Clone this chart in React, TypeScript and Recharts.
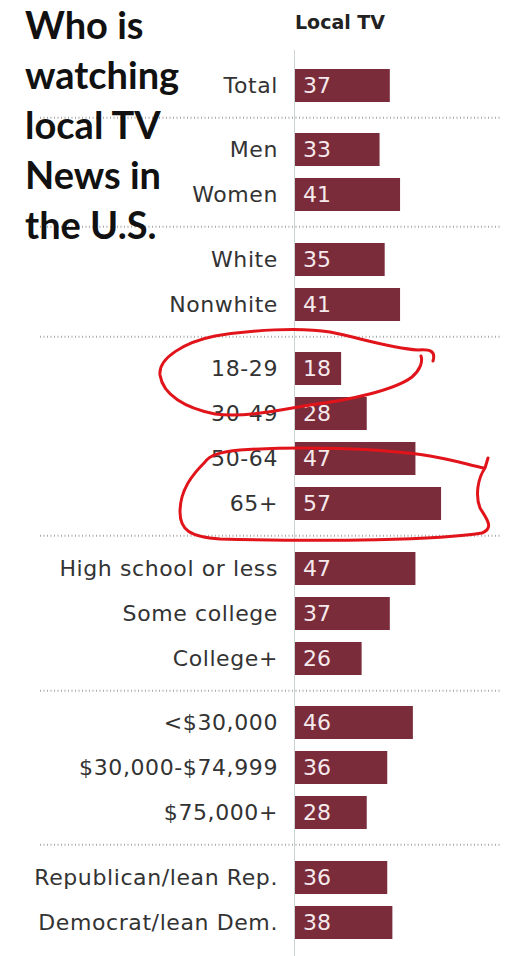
import { BarChart, Bar, XAxis, YAxis, LabelList } from 'recharts';

const categories = [
  'Total',
  'Men', 'Women',
  'White', 'Nonwhite',
  '18-29', '30-49', '50-64', '65+',
  'High school or less', 'Some college', 'College+',
  '<$30,000', '$30,000-$74,999', '$75,000+',
  'Republican/lean Rep.', 'Democrat/lean Dem.',
];
const localTV = [37, 33, 41, 35, 41, 18, 28, 47, 57, 47, 37, 26, 46, 36, 28, 36, 38];
const groupSizes = [1, 2, 2, 4, 3, 3, 2];

const titleLines = ['Who is', 'watching', 'local TV', 'News in', 'the U.S.'];
const seriesName = 'Local TV';

const ROW = 45;
const GAP = 19.5;
const BAR = '#7a2c3b';
const FONT = '"DejaVu Sans", sans-serif';

const rows = categories.map((c, i) => ({ label: c, value: localTV[i] }));
const groups: { label: string; value: number }[][] = [];
let start = 0;
groupSizes.forEach((n) => {
  groups.push(rows.slice(start, start + n));
  start += n;
});

function Group({ data }: { data: { label: string; value: number }[] }) {
  return (
    <BarChart
      width={513}
      height={data.length * ROW}
      data={data}
      layout="vertical"
      margin={{ top: 0, right: 13, bottom: 0, left: 0 }}
    >
      <XAxis type="number" domain={[0, 80]} hide />
      <YAxis
        type="category"
        dataKey="label"
        width={295}
        axisLine={false}
        tickLine={false}
        tickSize={0}
        tickMargin={17}
        interval={0}
        tick={{ fill: '#333', fontSize: 22, fontFamily: FONT, letterSpacing: 0.6 }}
      />
      <Bar dataKey="value" fill={BAR} barSize={33} isAnimationActive={false}>
        <LabelList
          dataKey="value"
          position="insideLeft"
          offset={8}
          fill="#f6e9eb"
          fontSize={22}
          fontFamily={FONT}
        />
      </Bar>
    </BarChart>
  );
}

function Separator() {
  return (
    <svg width={513} height={GAP} style={{ display: 'block' }}>
      <line x1={40} x2={500} y1={GAP / 2} y2={GAP / 2} stroke="#a8a8a8" strokeWidth={2} strokeDasharray="1 2.5" />
    </svg>
  );
}

export default function App() {
  return (
    <div style={{ position: 'absolute', left: 0, top: 0, width: 513, height: 956, background: '#fff', overflow: 'hidden' }}>
      <div style={{ position: 'absolute', left: 294, top: 50, width: 1, height: 906, background: '#cdd3d3' }} />
      <div
        style={{
          position: 'absolute', left: 295, top: 13, fontFamily: FONT, fontWeight: 700,
          fontSize: 19, lineHeight: '19px', color: '#222',
        }}
      >
        {seriesName}
      </div>
      <div style={{ position: 'absolute', left: 0, top: 62.5 }}>
        {groups.map((g, i) => (
          <div key={i}>
            <Group data={g} />
            {i < groups.length - 1 && <Separator />}
          </div>
        ))}
      </div>
      <div
        style={{
          position: 'absolute', left: 25, top: -1, fontFamily: 'Lato, sans-serif', fontWeight: 700,
          fontSize: 38, lineHeight: '50px', color: '#111',
        }}
      >
        {titleLines.map((t) => (
          <div key={t}>{t}</div>
        ))}
      </div>
      <svg width={513} height={956} style={{ position: 'absolute', left: 0, top: 0, pointerEvents: 'none' }}>
        <path
          d="M 433 361 C 436 351 430 349 418 350 C 390 348 360 338 330 332 C 300 327 250 330 215 336 C 185 342 158 358 160 375 C 163 395 185 408 215 414 C 245 418 280 410 310 405 C 350 400 395 390 412 377 C 420 370 423 362 421 356"
          fill="none" stroke="#e0141a" strokeWidth={3} strokeLinecap="round"
        />
        <path
          d="M 488 458 L 485 468 C 478 478 475 495 480 508 C 486 518 495 528 482 533 C 440 540 330 542 220 539 C 190 537 180 530 180 512 C 180 490 192 475 205 462 C 210 455 220 452 240 450 C 300 446 380 448 430 456 C 455 460 472 466 484 468"
          fill="none" stroke="#e0141a" strokeWidth={3} strokeLinecap="round"
        />
      </svg>
    </div>
  );
}
